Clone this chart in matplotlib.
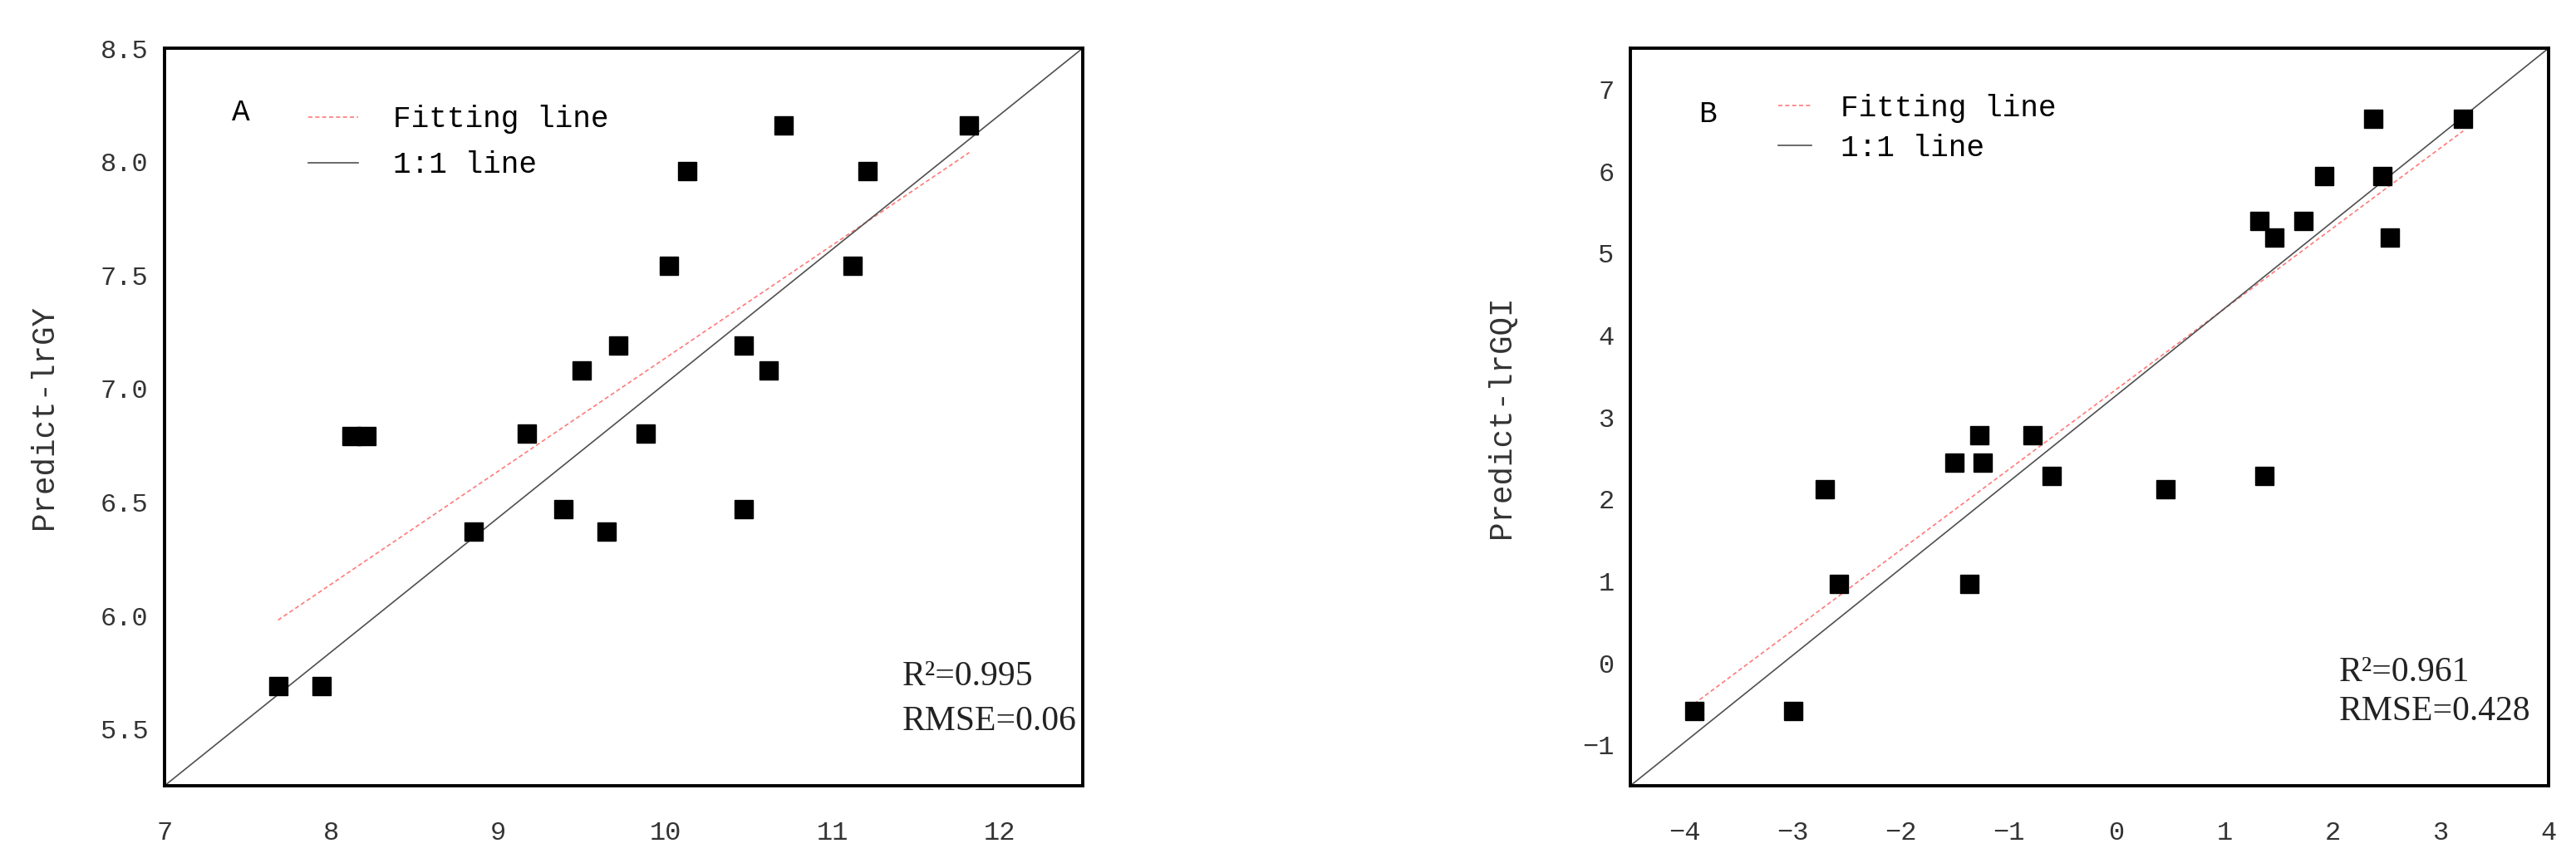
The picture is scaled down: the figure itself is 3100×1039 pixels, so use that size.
import matplotlib
matplotlib.use('Agg')
import matplotlib.pyplot as plt
from matplotlib.ticker import FormatStrFormatter

# panel A: lrGY observed vs predicted
obs_gy = [7.68, 7.94, 8.12, 8.21, 8.85, 9.17, 9.39, 9.50, 9.65, 9.72,
          9.88, 10.02, 10.13, 10.47, 10.47, 10.62, 10.71, 11.12, 11.21, 11.82]
pred_gy = [5.69, 5.69, 6.79, 6.79, 6.37, 6.80, 6.47, 7.08, 6.37, 7.19,
           6.80, 7.54, 7.96, 7.19, 6.47, 7.08, 8.16, 7.54, 7.96, 8.16]
fit_gy_x = [7.68, 11.82]
fit_gy_y = [5.98, 8.04]
xlim_gy = [7, 12.5]
ylim_gy = [5.25, 8.5]
xticks_gy = [7, 8, 9, 10, 11, 12]
yticks_gy = [5.5, 6.0, 6.5, 7.0, 7.5, 8.0, 8.5]

# panel B: lrGQI observed vs predicted
obs_gqi = [-3.91, -2.99, -2.70, -2.57, -1.50, -1.36, -1.27, -1.24, -0.78, -0.60,
           0.455, 1.32, 1.37, 1.46, 1.73, 1.92, 2.38, 2.46, 2.53, 3.21]
pred_gqi = [-0.59, -0.59, 2.12, 0.96, 2.44, 0.96, 2.78, 2.44, 2.78, 2.28,
            2.12, 5.39, 2.28, 5.19, 5.39, 5.94, 6.64, 5.94, 5.19, 6.64]
fit_gqi_x = [-3.91, 3.21]
fit_gqi_y = [-0.50, 6.49]
xlim_gqi = [-4.5, 4]
ylim_gqi = [-1.5, 7.5]
xticks_gqi = [-4, -3, -2, -1, 0, 1, 2, 3, 4]
yticks_gqi = [-1, 0, 1, 2, 3, 4, 5, 6, 7]

MONO = 'Liberation Mono'
SERIF = 'Liberation Serif'


def panel(ax, x, y, fx, fy, xlim, ylim, xticks, yticks, ylabel, letter,
          r2, rmse, fmt, leg, txt, labx):
    fit, = ax.plot(fx, fy, color='#ff7a7a', lw=1.2, ls=(0, (3, 2)),
                   label='Fitting line')
    # 1:1 line runs corner to corner of the frame
    one, = ax.plot(xlim, ylim, color='#505050', lw=1.2, label='1:1 line')
    ax.plot(x, y, ls='none', marker='s', ms=16, color='black', zorder=3)

    ax.set_xlim(xlim)
    ax.set_ylim(ylim)
    ax.set_xticks(xticks)
    ax.set_yticks(yticks)
    if fmt:
        ax.yaxis.set_major_formatter(FormatStrFormatter(fmt))
    ax.tick_params(length=0, labelsize=23, labelcolor='#333333')
    ax.tick_params(axis='x', pad=30)
    ax.tick_params(axis='y', pad=14)
    for lab in ax.get_xticklabels() + ax.get_yticklabels():
        lab.set_family(MONO)
    for s in ax.spines.values():
        s.set_linewidth(2.8)

    ax.set_ylabel(ylabel, family=MONO, fontsize=27, color='#333333')
    ax.yaxis.set_label_coords(labx, 0.5)

    ax.text(leg['lx'], leg['ly'], letter, transform=ax.transAxes, family=MONO,
            fontsize=26, ha='center', va='center')
    ax.legend(handles=[fit, one], loc='upper left',
              bbox_to_anchor=(leg['x'], leg['y']), frameon=False,
              borderpad=0, borderaxespad=0, handlelength=leg['hl'],
              handletextpad=leg['pad'], labelspacing=leg['sp'],
              prop={'family': MONO, 'size': 26})

    ax.text(txt[0], txt[1], 'R\u00b2=' + r2, transform=ax.transAxes,
            family=SERIF, fontsize=30, va='center', color='#222222')
    ax.text(txt[0], txt[2], 'RMSE=' + rmse, transform=ax.transAxes,
            family=SERIF, fontsize=30, va='center', color='#222222')


fig = plt.figure(figsize=(31, 10.39), dpi=100)
ax1 = fig.add_axes([198 / 3100, 93 / 1039, 1105 / 3100, 888 / 1039])
ax2 = fig.add_axes([1962 / 3100, 93 / 1039, 1105 / 3100, 888 / 1039])

panel(ax1, obs_gy, pred_gy, fit_gy_x, fit_gy_y, xlim_gy, ylim_gy,
      xticks_gy, yticks_gy, 'Predict-lrGY', 'A', '0.995', '0.06', '%.1f',
      dict(x=0.157, y=0.923, hl=1.66, pad=1.14, sp=0.55, lx=0.083, ly=0.913),
      (0.803, 0.148, 0.087), -0.115)
panel(ax2, obs_gqi, pred_gqi, fit_gqi_x, fit_gqi_y, xlim_gqi, ylim_gqi,
      xticks_gqi, yticks_gqi, 'Predict-lrGQI', 'B', '0.961', '0.428', None,
      dict(x=0.161, y=0.938, hl=1.1, pad=0.97, sp=0.36, lx=0.084, ly=0.91),
      (0.772, 0.153, 0.100), -0.124)

fig.savefig('out.png', dpi=100)
